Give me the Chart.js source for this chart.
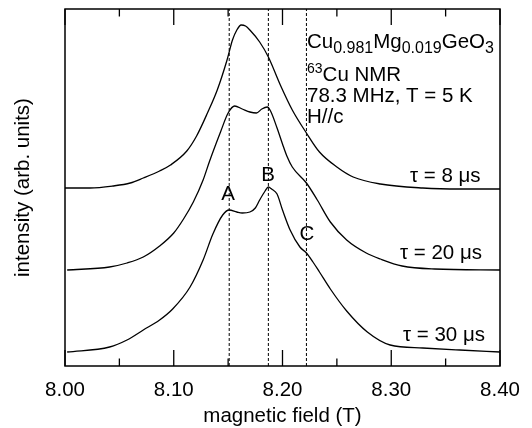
<!DOCTYPE html>
<html><head><meta charset="utf-8">
<script src="https://cdn.jsdelivr.net/npm/chart.js@4.4.1/dist/chart.umd.min.js"></script>
<style>html,body{margin:0;padding:0;background:#fff;}#wrap{width:532px;height:428px;}</style>
</head><body><div id="wrap"><canvas id="c" width="532" height="428"></canvas></div>
<script>
// magnetic field (T) and intensity (arb. units, offset curves)
const field8  = [8.000,8.023,8.044,8.060,8.072,8.087,8.097,8.112,8.121,8.131,8.140,8.149,8.154,8.158,8.162,8.166,8.170,8.179,8.187,8.198,8.209,8.222,8.234,8.250,8.265,8.290,8.329,8.363,8.400];
const int8    = [178,178,180,183,188,195,201,215,230,253,276,306,326,336,341,340,336,324,309,281,256,233,214,199,189,182,178,177,177];
const field20 = [8.002,8.041,8.057,8.072,8.087,8.100,8.109,8.118,8.127,8.133,8.143,8.150,8.156,8.163,8.170,8.176,8.181,8.186,8.189,8.195,8.200,8.204,8.209,8.222,8.232,8.244,8.259,8.277,8.290,8.310,8.340,8.400];
const int20   = [96,99,103,109,120,133,147,164,186,205,234,253,260,257,254,253,257,259,255,238,222,210,199,183,166,144,126,113,107,100,97,96];
const field30 = [8.002,8.041,8.057,8.072,8.087,8.099,8.115,8.127,8.136,8.145,8.151,8.158,8.163,8.170,8.175,8.179,8.184,8.187,8.190,8.195,8.200,8.207,8.216,8.222,8.228,8.234,8.244,8.259,8.278,8.299,8.329,8.363,8.400];
const int30   = [14,19,26,36,46,57,79,106,132,151,156,154,153,154,158,166,175,179,177,172,156,136,119,113,104,94,77,55,34,21,18,16,14];
const dashFields = [8.151, 8.187, 8.222];
const seriesLabels = ['τ = 8 μs', 'τ = 20 μs', 'τ = 30 μs'];
const peakLabels = ['A', 'B', 'C'];
const xMin = 8.00, xMax = 8.40, xStep = 0.05;
const yMin = 0, yMax = 357;

const toPts = (xs, ys) => xs.map((x, i) => ({x, y: ys[i]}));
const FONT = '"Liberation Sans", Arial, Helvetica, sans-serif';

const curveStyle = {borderColor:'#000', borderWidth:1.3, pointRadius:0, fill:false, showLine:true, cubicInterpolationMode:'monotone'};
const datasets = [
  Object.assign({data: toPts(field8, int8)}, curveStyle),
  Object.assign({data: toPts(field20, int20)}, curveStyle),
  Object.assign({data: toPts(field30, int30)}, curveStyle),
];
dashFields.forEach(f => datasets.push({data:[{x:f,y:yMin},{x:f,y:yMax}], borderColor:'#000', borderWidth:1, borderDash:[3,2], pointRadius:0, showLine:true, tension:0}));

function drawRich(ctx, x, y, parts) {
  let cx = x;
  parts.forEach(p => {
    ctx.font = p.size + 'px ' + FONT;
    ctx.fillText(p.t, cx, y + (p.dy || 0));
    cx += ctx.measureText(p.t).width;
  });
}

const framePlugin = {
  id: 'frame',
  afterDatasetsDraw(chart) {
    const {ctx, chartArea: a, scales: {x}} = chart;
    ctx.save();
    ctx.strokeStyle = '#000';
    ctx.lineWidth = 1.5;
    ctx.strokeRect(a.left, a.top, a.right - a.left, a.bottom - a.top);
    ctx.lineWidth = 1.3;
    x.ticks.forEach(t => {
      const px = x.getPixelForValue(t.value);
      const major = Math.round(t.value * 100) % 10 === 0;
      const len = major ? 16 : 7.5;
      ctx.beginPath();
      ctx.moveTo(px, a.bottom); ctx.lineTo(px, a.bottom - len);
      ctx.moveTo(px, a.top); ctx.lineTo(px, a.top + len);
      ctx.stroke();
    });
    ctx.fillStyle = '#000';
    ctx.textBaseline = 'alphabetic';
    ctx.textAlign = 'left';
    drawRich(ctx, 307, 47.5, [{t:'Cu',size:20.5},{t:'0.981',size:16,dy:5},{t:'Mg',size:20.5},{t:'0.019',size:16,dy:5},{t:'GeO',size:20.5},{t:'3',size:16,dy:5}]);
    drawRich(ctx, 307, 81, [{t:'63',size:14,dy:-8},{t:'Cu NMR',size:20.5}]);
    drawRich(ctx, 307, 102, [{t:'78.3 MHz, T = 5 K',size:20.5}]);
    drawRich(ctx, 307, 123, [{t:'H//c',size:20.5}]);
    ctx.font = '20.5px ' + FONT;
    ctx.fillText(seriesLabels[0], 410, 182);
    ctx.fillText(seriesLabels[1], 400, 259);
    ctx.fillText(seriesLabels[2], 403, 341);
    ctx.textAlign = 'center';
    ctx.fillText(peakLabels[0], 228, 200);
    ctx.fillText(peakLabels[1], 268, 181);
    ctx.fillText(peakLabels[2], 307, 240);
    ctx.restore();
  }
};

new Chart(document.getElementById('c'), {
  type: 'scatter',
  data: {datasets},
  options: {
    responsive: false,
    animation: false,
    devicePixelRatio: 1,
    layout: {padding: {top: 9, right: 32, bottom: 0, left: 0}},
    plugins: {legend: {display: false}, tooltip: {enabled: false}},
    scales: {
      x: {
        type: 'linear', min: xMin, max: xMax,
        grid: {display: false, drawTicks: false},
        border: {display: false},
        ticks: {
          stepSize: xStep, autoSkip: false, maxRotation: 0, padding: 12,
          color: '#000', font: {family: FONT, size: 20.5},
          callback: v => { const k = Math.round(v * 100); return k % 10 === 0 ? (k / 100).toFixed(2) : ''; }
        },
        title: {display: true, text: 'magnetic field (T)', color: '#000', font: {family: FONT, size: 20.5, lineHeight: 1}, padding: {top: 0, bottom: 1}},
        afterFit: s => { s.height = 62; }
      },
      y: {
        type: 'linear', min: yMin, max: yMax,
        grid: {display: false, drawTicks: false},
        border: {display: false},
        ticks: {display: false},
        title: {display: true, text: 'intensity (arb. units)', color: '#000', font: {family: FONT, size: 20.5}, padding: {top: 11, bottom: 0}},
        afterFit: s => { s.width = 65; }
      }
    }
  },
  plugins: [framePlugin]
});
</script></body></html>
